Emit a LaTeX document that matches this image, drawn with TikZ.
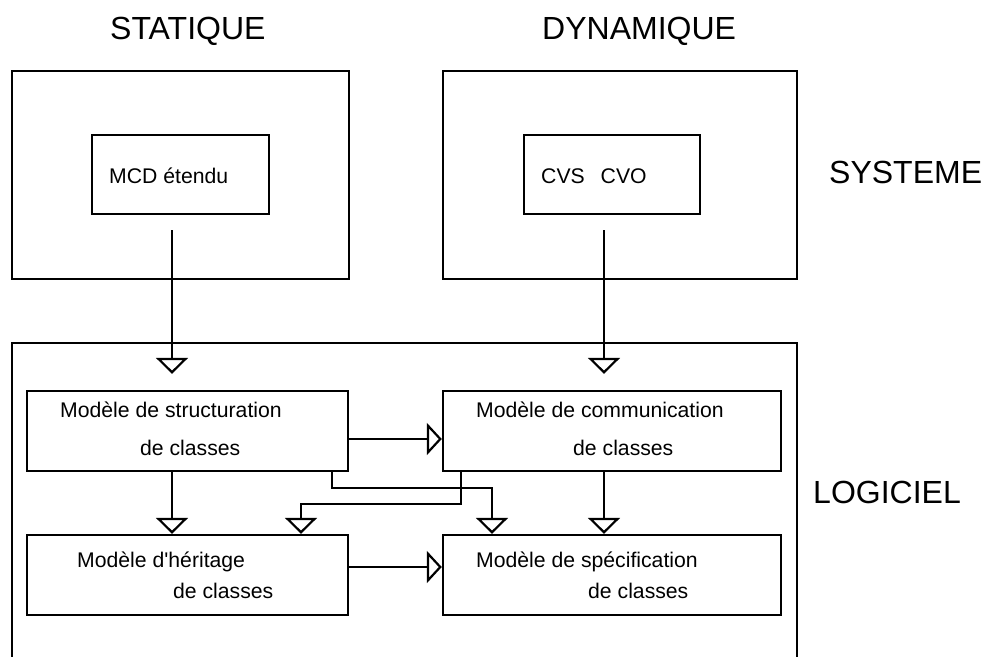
\documentclass[tikz,border=0pt]{standalone}
\usepackage{fontspec}
\setmainfont{Liberation Sans}[Ligatures=TeXOff]
\usetikzlibrary{arrows.meta}
\begin{document}
\begin{tikzpicture}[x=1pt,y=-1pt,
  box/.style={draw,line width=2.4pt,rectangle,inner sep=0pt},
  lbl/.style={anchor=base west,inner sep=0pt,font=\fontsize{21.2}{25}\selectfont},
  big/.style={anchor=base west,inner sep=0pt,font=\fontsize{32}{36}\selectfont},
  conn/.style={line width=2.2pt,-{Triangle[open,length=16pt,width=32pt,line width=2.2pt]}},
  hconn/.style={line width=2.2pt,-{Triangle[open,length=15pt,width=32pt,line width=2.2pt]}}]
\useasboundingbox (0,0) rectangle (984,656);

% upper level: system views
\node[box,minimum width=337pt,minimum height=208pt] (stat) at (180.5,175) {};
\node[box,minimum width=354pt,minimum height=208pt] (dyn) at (620,175) {};
\node[box,minimum width=177pt,minimum height=79pt] (mcd) at (180.5,174.5) {};
\node[box,minimum width=176pt,minimum height=79pt] (cvs) at (612,174.5) {};

% lower level: software frame, open at the bottom
\draw[line width=2.4pt] (12,670) |- (797,343) -- (797,670);

\node[box,minimum width=321pt,minimum height=80pt] (struct) at (187.5,431) {};
\node[box,minimum width=338pt,minimum height=80pt] (comm) at (612,431) {};
\node[box,minimum width=321pt,minimum height=80pt] (herit) at (187.5,575) {};
\node[box,minimum width=338pt,minimum height=80pt] (spec) at (612,575) {};

% headings
\node[big] (tstat) at (110,39) {STATIQUE};
\node[big] (tdyn) at (542,39) {DYNAMIQUE};
\node[big] (tsys) at (829,183) {SYSTEME};
\node[big] (tlog) at (813,503) {LOGICIEL};

% box texts
\node[lbl] (tmcd) at (109,183) {MCD étendu};
\node[lbl] (tcvs) at (541,183) {CVS\hspace{0.75em}CVO};
\node[lbl] (ts1) at (60,417) {Modèle de structuration};
\node[lbl] (ts2) at (140,455) {de classes};
\node[lbl] (tc1) at (476,417) {Modèle de communication};
\node[lbl] (tc2) at (573,455) {de classes};
\node[lbl] (th1) at (77,567) {Modèle d'héritage};
\node[lbl] (th2) at (173,598) {de classes};
\node[lbl] (tp1) at (476,567) {Modèle de spécification};
\node[lbl] (tp2) at (588,598) {de classes};

% connectors
\draw[conn] ([xshift=-8.5pt,yshift=-15pt]mcd.south) -- ([xshift=-15.5pt,yshift=16pt]struct.north);
\draw[conn] ([xshift=-8pt,yshift=-15pt]cvs.south) -- ([xshift=-8pt,yshift=16pt]comm.north);
\draw[hconn] ([yshift=-8pt]struct.east) -- ([yshift=-8pt]comm.west);
\draw[hconn] ([yshift=8pt]herit.east) -- ([yshift=8pt]spec.west);
\draw[conn] ([xshift=-15.5pt]struct.south) -- ([xshift=-15.5pt]herit.north);
\draw[conn] ([xshift=144.5pt]struct.south) -- ++(0,16) -| ([xshift=-120pt]spec.north);
\draw[conn] ([xshift=-151pt]comm.south) -- ++(0,32) -| ([xshift=113.5pt]herit.north);
\draw[conn] ([xshift=-8pt]comm.south) -- ([xshift=-8pt]spec.north);
\end{tikzpicture}
\end{document}
